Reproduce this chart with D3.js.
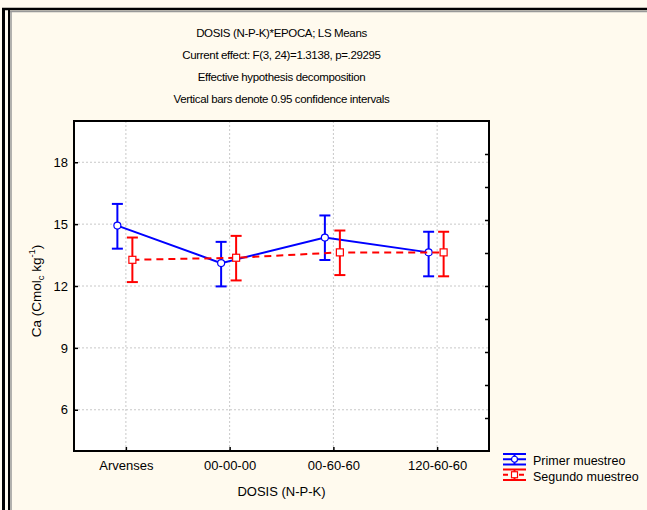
<!DOCTYPE html>
<html>
<head>
<meta charset="utf-8">
<script src="https://cdn.jsdelivr.net/npm/d3@7"></script>
<style>
body { margin: 0; background: #fffaee; }
svg { display: block; font-family: "Liberation Sans", Arial, sans-serif; }
</style>
</head>
<body>
<svg width="647" height="510"></svg>
<script>
var categories = ["Arvenses", "00-00-00", "00-60-60", "120-60-60"];
var primer = [14.93, 13.11, 14.35, 13.63];
var primerLo = [13.81, 11.98, 13.26, 12.47];
var primerHi = [15.98, 14.14, 15.42, 14.63];
var segundo = [13.27, 13.37, 13.63, 13.63];
var segundoLo = [12.19, 12.27, 12.53, 12.47];
var segundoHi = [14.35, 14.43, 14.69, 14.63];
var yTicks = [6, 9, 12, 15, 18];
var titles = [
	"DOSIS (N-P-K)*EPOCA; LS Means",
	"Current effect: F(3, 24)=1.3138, p=.29295",
	"Effective hypothesis decomposition",
	"Vertical bars denote 0.95 confidence intervals"
];
var legendNames = ["Primer muestreo", "Segundo muestreo"];

var margin = { top: 121, right: 158, bottom: 59, left: 74 },
	width = 647 - margin.left - margin.right,
	height = 510 - margin.top - margin.bottom;

var svg = d3.select("svg");

// outer frame
svg.append("rect").attr("x", 0).attr("y", 0).attr("width", 647).attr("height", 510).attr("fill", "#fffaee");
svg.append("line").attr("x1", 2).attr("x2", 647).attr("y1", 9).attr("y2", 9).attr("stroke", "#000").attr("stroke-width", 2.5);
svg.append("line").attr("x1", 3.5).attr("x2", 3.5).attr("y1", 8).attr("y2", 510).attr("stroke", "#000").attr("stroke-width", 3);
svg.append("line").attr("x1", 9).attr("x2", 9).attr("y1", 10).attr("y2", 510).attr("stroke", "#000").attr("stroke-width", 2);
svg.append("line").attr("x1", 11).attr("x2", 11).attr("y1", 11).attr("y2", 510).attr("stroke", "#999").attr("stroke-width", 1.5);
svg.append("line").attr("x1", 10).attr("x2", 647).attr("y1", 11.5).attr("y2", 11.5).attr("stroke", "#999").attr("stroke-width", 1.5);

var x = d3.scalePoint()
	.domain(categories)
	.range([0, width])
	.padding(0.5);

var y = d3.scaleLinear()
	.domain([4, 20])
	.range([height, 0]);

var g = svg.append("g").attr("transform", "translate(" + margin.left + "," + margin.top + ")");

g.append("rect").attr("width", width).attr("height", height).attr("fill", "#fff");

// titles
svg.selectAll(".title")
	.data(titles)
	.enter().append("text")
		.attr("x", margin.left + width / 2)
		.attr("y", function (d, i) { return 37 + i * 22; })
		.attr("text-anchor", "middle")
		.style("font-size", "11.5px")
		.style("letter-spacing", "-0.35px")
		.text(function (d) { return d; });

// grid
g.selectAll(".hgrid")
	.data(yTicks)
	.enter().append("line")
		.attr("x1", 0).attr("x2", width)
		.attr("y1", function (d) { return y(d); })
		.attr("y2", function (d) { return y(d); })
		.attr("stroke", "#c8c8c8").attr("stroke-dasharray", "2,2");

g.selectAll(".vgrid")
	.data(categories)
	.enter().append("line")
		.attr("x1", function (d) { return x(d); })
		.attr("x2", function (d) { return x(d); })
		.attr("y1", 0).attr("y2", height)
		.attr("stroke", "#c8c8c8").attr("stroke-dasharray", "2,2");

// axes
var yAxis = d3.axisLeft(y).tickValues(yTicks).tickSizeInner(-4).tickSizeOuter(0).tickPadding(6);
var gy = g.append("g").call(yAxis);
gy.select(".domain").remove();
gy.selectAll("text").style("font-size", "13px").attr("fill", "#000");

var rightTicks = d3.range(1, 10).map(function (k) { return 4 + k * 1.6; });
var gr = g.append("g").attr("transform", "translate(" + width + ",0)")
	.call(d3.axisRight(y).tickValues(rightTicks).tickSizeInner(-4).tickSizeOuter(0).tickFormat(""));
gr.select(".domain").remove();

var xAxis = d3.axisBottom(x).tickSizeInner(-4).tickSizeOuter(0).tickPadding(10);
var gx = g.append("g").attr("transform", "translate(0," + height + ")").call(xAxis);
gx.select(".domain").remove();
gx.selectAll("text").style("font-size", "13px").attr("fill", "#000");
g.selectAll(".tick line").attr("stroke", "#000").attr("stroke-width", 1.5);

// series
var series = [
	{ name: legendNames[0], mean: primer, lo: primerLo, hi: primerHi, color: "#0000ff", dx: -8.5, dash: null, shape: "circle" },
	{ name: legendNames[1], mean: segundo, lo: segundoLo, hi: segundoHi, color: "#ff0000", dx: 6.5, dash: "7,5", shape: "square" }
];

series.forEach(function (s) {
	var pts = categories.map(function (c, i) {
		return { cat: c, mean: s.mean[i], lo: s.lo[i], hi: s.hi[i] };
	});
	var line = d3.line()
		.x(function (d) { return x(d.cat) + s.dx; })
		.y(function (d) { return y(d.mean); });

	g.append("path")
		.datum(pts)
		.attr("fill", "none")
		.attr("stroke", s.color)
		.attr("stroke-width", 2)
		.attr("stroke-dasharray", s.dash)
		.attr("d", line);

	var eb = g.selectAll(null).data(pts).enter().append("g")
		.attr("transform", function (d) { return "translate(" + (x(d.cat) + s.dx) + ",0)"; });
	eb.append("line")
		.attr("y1", function (d) { return y(d.lo); })
		.attr("y2", function (d) { return y(d.hi); })
		.attr("stroke", s.color).attr("stroke-width", 2);
	eb.append("line")
		.attr("x1", -5.5).attr("x2", 5.5)
		.attr("y1", function (d) { return y(d.hi); })
		.attr("y2", function (d) { return y(d.hi); })
		.attr("stroke", s.color).attr("stroke-width", 2);
	eb.append("line")
		.attr("x1", -5.5).attr("x2", 5.5)
		.attr("y1", function (d) { return y(d.lo); })
		.attr("y2", function (d) { return y(d.lo); })
		.attr("stroke", s.color).attr("stroke-width", 2);
	if (s.shape === "circle") {
		eb.append("circle")
			.attr("cy", function (d) { return y(d.mean); })
			.attr("r", 3.5)
			.attr("fill", "#fff").attr("stroke", s.color).attr("stroke-width", 1.2);
	} else {
		eb.append("rect")
			.attr("x", -3.5)
			.attr("y", function (d) { return y(d.mean) - 3.5; })
			.attr("width", 7).attr("height", 7)
			.attr("fill", "#fff").attr("stroke", s.color).attr("stroke-width", 1.2);
	}
});

// plot frame
g.append("rect").attr("width", width).attr("height", height)
	.attr("fill", "none").attr("stroke", "#000").attr("stroke-width", 2);

// axis titles
var yl = svg.append("text")
	.attr("transform", "translate(41,291) rotate(-90)")
	.attr("text-anchor", "middle")
	.style("font-size", "13.5px");
yl.append("tspan").text("Ca (Cmol");
yl.append("tspan").attr("dy", 3).style("font-size", "9.5px").text("c");
yl.append("tspan").attr("dy", -3).text(" kg");
yl.append("tspan").attr("dy", -6).style("font-size", "9.5px").text("-1");
yl.append("tspan").attr("dy", 6).text(")");

svg.append("text")
	.attr("x", margin.left + width / 2)
	.attr("y", 496)
	.attr("text-anchor", "middle")
	.style("font-size", "13px")
	.text("DOSIS (N-P-K)");

// legend
var leg = svg.selectAll(".legend")
	.data(series)
	.enter().append("g")
		.attr("transform", function (d, i) { return "translate(503," + (454 + i * 15.5) + ")"; });
leg.each(function (s) {
	var l = d3.select(this);
	l.append("line").attr("x1", 0).attr("x2", 23).attr("y1", 0).attr("y2", 0).attr("stroke", s.color).attr("stroke-width", 2);
	l.append("line").attr("x1", 0).attr("x2", 23).attr("y1", 10.5).attr("y2", 10.5).attr("stroke", s.color).attr("stroke-width", 2);
	l.append("line").attr("x1", 11.5).attr("x2", 11.5).attr("y1", 0).attr("y2", 10.5).attr("stroke", s.color).attr("stroke-width", 2);
	l.append("line").attr("x1", 0).attr("x2", 23).attr("y1", 5.25).attr("y2", 5.25).attr("stroke", s.color).attr("stroke-width", 2)
		.attr("stroke-dasharray", s.dash ? "5,3" : null);
	if (s.shape === "circle") {
		l.append("circle").attr("cx", 11.5).attr("cy", 5.25).attr("r", 3).attr("fill", "#fff").attr("stroke", s.color).attr("stroke-width", 1.2);
	} else {
		l.append("rect").attr("x", 8.5).attr("y", 2.25).attr("width", 6).attr("height", 6).attr("fill", "#fff").attr("stroke", s.color).attr("stroke-width", 1.2);
	}
	l.append("text").attr("x", 30).attr("y", 11).style("font-size", "12.5px").text(s.name);
});
</script>
</body>
</html>
